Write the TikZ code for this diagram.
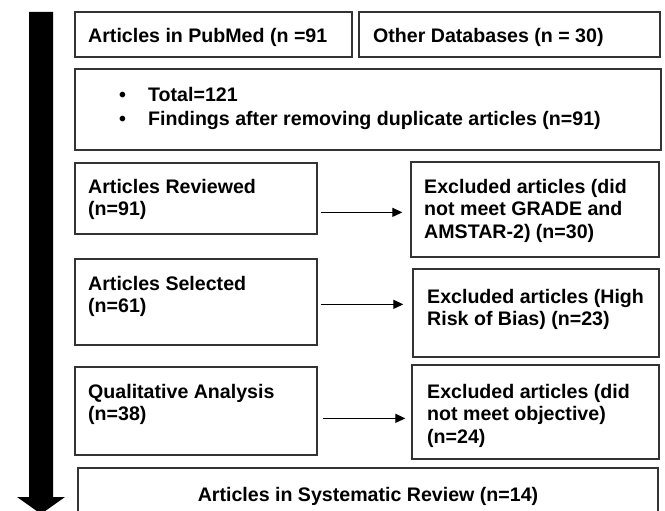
\documentclass[tikz,border=0pt]{standalone}
\usepackage{fontspec}
\setmainfont{Liberation Sans}
\usetikzlibrary{arrows.meta,calc,fit}
\begin{document}
\begin{tikzpicture}[x=1pt,y=-1pt,
  box/.style={draw=black!80,line width=1.3pt,rectangle,inner sep=0pt},
  txt/.style={inner sep=0pt,anchor=base west,align=left,
    font=\fontsize{19.6}{22.5}\bfseries\selectfont},
  conn/.style={draw=black,line width=1.2pt,-{Triangle[length=10pt,width=9pt]}}]
\useasboundingbox (0,0) rectangle (665,511);
% big downward arrow
\fill[black] (29,12) -- (53,12) -- (53,497) -- (65,497) -- (41,514) -- (17,497) -- (29,497) -- cycle;
% boxes
\node[box,fit={(75,12) (352,57)}] (pub) {};
\node[box,fit={(359,12) (660,57)}] (oth) {};
\node[box,fit={(75,69) (661,150)}] (tot) {};
\node[box,fit={(75,163) (317,234)}] (rev) {};
\node[box,fit={(411,162) (659,257)}] (ex1) {};
\node[box,fit={(75,259) (317,345)}] (sel) {};
\node[box,fit={(413,269) (659,357)}] (ex2) {};
\node[box,fit={(75,367) (317,455)}] (qual) {};
\node[box,fit={(412,365) (659,459)}] (ex3) {};
\node[box,fit={(78,468) (658,540)}] (sys) {};
% texts (base anchor = baseline of the last line)
\node[txt] (pubt) at (88,43) {Articles in PubMed (n =91};
\node[txt] (otht) at (373,43) {Other Databases (n = 30)};
\node[txt,font=\fontsize{19.6}{23.3}\bfseries\selectfont] (tott) at (119,125.3)
  {\makebox[29pt][l]{•}Total=121\\\makebox[29pt][l]{•}Findings after removing duplicate articles (n=91)};
\node[txt] (revt) at (88,215.5) {Articles Reviewed\\(n=91)};
\node[txt] (ex1t) at (424,238) {Excluded articles (did\\not meet GRADE and\\AMSTAR-2) (n=30)};
\node[txt] (selt) at (88,312.5) {Articles Selected\\(n=61)};
\node[txt] (ex2t) at (427,325.5) {Excluded articles (High\\Risk of Bias) (n=23)};
\node[txt] (qualt) at (88,420.5) {Qualitative Analysis\\(n=38)};
\node[txt] (ex3t) at (427,443) {Excluded articles (did\\not meet objective)\\(n=24)};
\node[txt,anchor=base] (syst) at (368,501) {Articles in Systematic Review (n=14)};
% connectors
\draw[conn] ($(rev.north east)+(3,50)$) -- ($(ex1.north west)+(-8,51)$);
\draw[conn] ($(sel.north east)+(3,46)$) -- ($(ex2.north west)+(-9,36)$);
\draw[conn] ($(qual.north east)+(5,52)$) -- ($(ex3.north west)+(-6,54)$);
\end{tikzpicture}
\end{document}
